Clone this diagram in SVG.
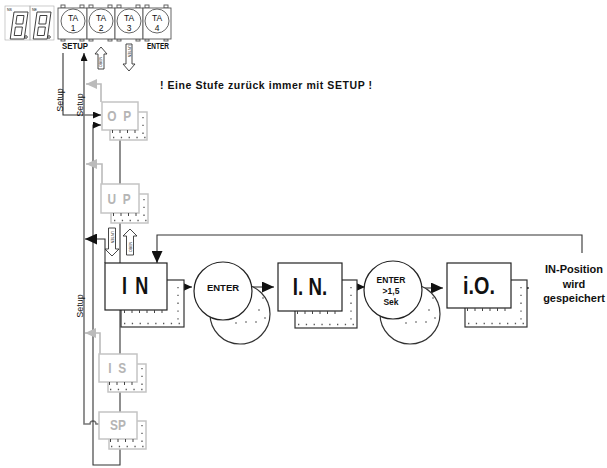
<svg xmlns="http://www.w3.org/2000/svg" width="607" height="468" viewBox="0 0 607 468">
<style>
text{font-family:"Liberation Sans",Arial,sans-serif;fill:#111}
.b{font-weight:bold}
.gbox{fill:#fff;stroke:#c4c4c4;stroke-width:1.5}
.kbox{fill:#fff;stroke:#222;stroke-width:1.2}
.kshd{fill:#fff;stroke:#333;stroke-width:1.2}
.tick{stroke:#444;stroke-width:3;stroke-dasharray:1 6.5;fill:none}
.dot{stroke:#555;stroke-width:1.3;stroke-dasharray:1.3 6.5;fill:none}
.gl{font-weight:bold;fill:#b5b5b5;font-size:14px;text-anchor:middle}
.kl{font-weight:bold;fill:#111;font-size:22px;text-anchor:middle}
.ln{fill:none;stroke:#333;stroke-width:1.1}
.gln{fill:none;stroke:#bbb;stroke-width:1.6}
.mln{fill:none;stroke:#777;stroke-width:1.6}
.btn{fill:#fff;stroke:#555;stroke-width:0.9}
.seg{fill:none;stroke:#333;stroke-width:0.9}
.hol{fill:#fff;stroke:#333;stroke-width:0.9}
.tiny{font-size:3.6px}
.setup{font-size:9px;text-anchor:middle}
</style>
<defs>
<marker id="ah" markerUnits="userSpaceOnUse" markerWidth="12" markerHeight="11" refX="12" refY="5.5" orient="auto"><path d="M0,0 L12,5.5 L0,11 Z" fill="#111"/></marker>
<marker id="as" markerUnits="userSpaceOnUse" markerWidth="8" markerHeight="7" refX="8" refY="3.5" orient="auto"><path d="M0,0 L8,3.5 L0,7 Z" fill="#111"/></marker>
<marker id="ag" markerUnits="userSpaceOnUse" markerWidth="11" markerHeight="10" refX="11" refY="5" orient="auto"><path d="M0,0 L11,5 L0,10 Z" fill="#bbb"/></marker>
</defs>

<g id="display">
<rect x="5" y="6" width="25" height="34" fill="none" stroke="#aaa" stroke-width="0.6"/>
<rect x="30" y="6" width="24" height="34" fill="none" stroke="#aaa" stroke-width="0.6"/>
<text x="7" y="11" class="tiny">NS</text>
<text x="32" y="11" class="tiny">NE</text>
<path class="seg" transform="translate(14,12) skewX(-8)" d="M0,0 H14 V27 H0 Z M3.5,3.5 H10.5 V12 H3.5 Z M3.5,15 H10.5 V23.5 H3.5 Z"/>
<path class="seg" transform="translate(37,12) skewX(-8)" d="M0,0 H14 V27 H0 Z M3.5,3.5 H10.5 V12 H3.5 Z M3.5,15 H10.5 V23.5 H3.5 Z"/>
<circle cx="26" cy="37" r="1.3" class="seg"/>
<circle cx="49" cy="37" r="1.3" class="seg"/>
</g>

<g id="buttons">
<rect x="61" y="5" width="4" height="3" class="btn"/><rect x="80" y="5" width="4" height="3" class="btn"/>
<rect x="89" y="5" width="4" height="3" class="btn"/><rect x="108" y="5" width="4" height="3" class="btn"/>
<rect x="117" y="5" width="4" height="3" class="btn"/><rect x="136" y="5" width="4" height="3" class="btn"/>
<rect x="145" y="5" width="4" height="3" class="btn"/><rect x="164" y="5" width="4" height="3" class="btn"/>
<rect x="61" y="39" width="4" height="2" class="btn"/><rect x="80" y="39" width="4" height="2" class="btn"/>
<rect x="89" y="39" width="4" height="2" class="btn"/><rect x="108" y="39" width="4" height="2" class="btn"/>
<rect x="117" y="39" width="4" height="2" class="btn"/><rect x="136" y="39" width="4" height="2" class="btn"/>
<rect x="145" y="39" width="4" height="2" class="btn"/><rect x="164" y="39" width="4" height="2" class="btn"/>
<rect x="58" y="8" width="29" height="31" class="btn"/>
<rect x="87" y="8" width="28" height="31" class="btn"/>
<rect x="115" y="8" width="28" height="31" class="btn"/>
<rect x="143" y="8" width="28" height="31" class="btn"/>
<circle cx="73" cy="21" r="12" class="btn"/>
<circle cx="101" cy="21" r="12" class="btn"/>
<circle cx="129" cy="21" r="12" class="btn"/>
<circle cx="157" cy="21" r="12" class="btn"/>
<g font-size="8.5" text-anchor="middle">
<text x="73" y="21">TA</text><text x="73" y="31">1</text>
<text x="101" y="21">TA</text><text x="101" y="31">2</text>
<text x="129" y="21">TA</text><text x="129" y="31">3</text>
<text x="157" y="21">TA</text><text x="157" y="31">4</text>
</g>
<text x="62" y="49" class="b" font-size="8.5" textLength="26" lengthAdjust="spacingAndGlyphs">SETUP</text>
<text x="147" y="49" class="b" font-size="8.5" textLength="22" lengthAdjust="spacingAndGlyphs">ENTER</text>
</g>

<g id="arrow-up-top">
<path class="hol" d="M101,47 L107,54 L104,54 L104,69 L98,69 L98,54 L95,54 Z"/>
<text class="tiny" transform="translate(102.3,67) rotate(-90)">OBEN</text>
</g>
<g id="arrow-down-top">
<path class="hol" d="M129,71 L135,64 L132,64 L132,44 L126,44 L126,64 L123,64 Z"/>
<text class="tiny" transform="translate(127.7,45) rotate(90)">UNTEN</text>
</g>

<text id="hint" x="160" y="89" class="b" font-size="10.5" textLength="212" lengthAdjust="spacing">! Eine Stufe zurück immer mit SETUP  !</text>

<g id="connectors">
<path class="ln" d="M63,53 V115 H101" marker-end="url(#as)"/>
<path class="mln" d="M99,424 H96 A3,3 0 0 0 90,424 H84 V53" marker-end="url(#as)"/>
<path class="ln" d="M120,449 V465 H93 V125 H101" marker-end="url(#as)"/>
<path class="ln" d="M120,140 V184"/>
<path class="ln" d="M120,223 V263"/>
<path class="ln" d="M120,310 V354"/>
<path class="ln" d="M120,392 V412"/>
<path class="gln" d="M101,102 V84 H86" marker-end="url(#ag)"/>
<path class="gln" d="M102,184 V164 H86" marker-end="url(#ag)"/>
<path class="gln" d="M100,354 V333 H85" marker-end="url(#ag)"/>
<path class="ln" d="M105,263 V239 H85" marker-end="url(#ah)"/>
<path class="ln" d="M582,253 V235 H157 V263" marker-end="url(#ah)"/>
<path class="ln" d="M167,287 H192" marker-end="url(#ah)"/>
<path class="ln" d="M252,287 H274" marker-end="url(#ah)"/>
<path class="ln" d="M342,287 H365" marker-end="url(#ah)"/>
<path class="ln" d="M422,288 H443" marker-end="url(#ah)"/>
<path class="ln" d="M511,288 H529" marker-end="url(#ah)"/>
<g id="arrow-down-in">
<path class="hol" d="M112,256 L119,249 L115.5,249 L115.5,228 L108.5,228 L108.5,249 L105,249 Z"/>
<text class="tiny" transform="translate(110.5,231) rotate(90)">UNTEN</text>
</g>
<g id="arrow-up-in">
<path class="hol" d="M130,229 L137,236 L133.5,236 L133.5,255 L126.5,255 L126.5,236 L123,236 Z"/>
<text class="tiny" transform="translate(131.5,252) rotate(-90)">OBEN</text>
</g>
</g>

<text class="setup" transform="translate(62.5,100) rotate(-90)">Setup</text>
<text class="setup" transform="translate(83,105) rotate(-90)">Setup</text>
<text class="setup" transform="translate(82.5,306) rotate(-90)">Setup</text>

<g id="node-OP">
<rect x="110" y="112" width="37" height="28" class="gbox"/>
<rect x="102" y="102" width="36" height="28" class="gbox"/>
<line x1="112" y1="131.5" x2="138" y2="131.5" class="tick"/>
<line x1="113" y1="137.5" x2="146" y2="137.5" class="dot"/>
<line x1="143" y1="117" x2="143" y2="136" class="dot"/>
<text class="gl" transform="translate(120,121) scale(0.85,1.1)" letter-spacing="2">O P</text>
</g>
<g id="node-UP">
<rect x="111" y="194" width="37" height="29" class="gbox"/>
<rect x="101" y="184" width="38" height="29" class="gbox"/>
<line x1="113" y1="214.5" x2="139" y2="214.5" class="tick"/>
<line x1="114" y1="220.5" x2="147" y2="220.5" class="dot"/>
<line x1="144" y1="199" x2="144" y2="218" class="dot"/>
<text class="gl" transform="translate(120,204) scale(0.85,1.1)" letter-spacing="2">U P</text>
</g>
<g id="node-IN">
<rect x="121" y="280" width="63" height="47" class="kshd"/>
<rect x="105" y="263" width="62" height="47" class="kbox"/>
<line x1="124" y1="311.5" x2="167" y2="311.5" class="tick"/>
<line x1="124" y1="323.5" x2="182" y2="323.5" class="dot"/>
<line x1="178" y1="287" x2="178" y2="322" class="dot"/>
<text class="kl" transform="translate(136,294) scale(0.82,1.12)" letter-spacing="2">I N</text>
</g>
<g id="node-ENTER1">
<circle cx="240" cy="314" r="30" class="kshd"/>
<circle cx="263" cy="298" r="0.8" fill="#444"/><circle cx="259" cy="310" r="0.8" fill="#444"/>
<circle cx="256" cy="322" r="0.8" fill="#444"/><circle cx="246" cy="322" r="0.8" fill="#444"/>
<circle cx="236" cy="323" r="0.8" fill="#444"/><circle cx="265" cy="318" r="0.8" fill="#444"/>
<circle cx="223" cy="291" r="29" class="kbox"/>
<text x="223" y="291" class="b" font-size="9.5" text-anchor="middle">ENTER</text>
</g>
<g id="node-IN2">
<rect x="295" y="280" width="62" height="48" class="kshd"/>
<rect x="278" y="263" width="64" height="48" class="kbox"/>
<line x1="297" y1="312.5" x2="342" y2="312.5" class="tick"/>
<line x1="298" y1="324.5" x2="355" y2="324.5" class="dot"/>
<line x1="351" y1="287" x2="351" y2="322" class="dot"/>
<text class="kl" transform="translate(310,295) scale(0.85,1.12)">I. N.</text>
</g>
<g id="node-ENTER2">
<circle cx="410" cy="314" r="30" class="kshd"/>
<circle cx="433" cy="298" r="0.8" fill="#444"/><circle cx="429" cy="310" r="0.8" fill="#444"/>
<circle cx="426" cy="322" r="0.8" fill="#444"/><circle cx="416" cy="322" r="0.8" fill="#444"/>
<circle cx="406" cy="323" r="0.8" fill="#444"/><circle cx="435" cy="318" r="0.8" fill="#444"/>
<circle cx="393" cy="290" r="29" class="kbox"/>
<g class="b" font-size="8.5" text-anchor="middle">
<text x="391" y="283" class="b">ENTER</text>
<text x="391" y="294" class="b">&gt;1,5</text>
<text x="391" y="305" class="b">Sek</text>
</g>
</g>
<g id="node-iO">
<rect x="465" y="280" width="62" height="47" class="kshd"/>
<rect x="447" y="263" width="64" height="45" class="kbox"/>
<line x1="467" y1="309.5" x2="511" y2="309.5" class="tick"/>
<line x1="468" y1="323.5" x2="525" y2="323.5" class="dot"/>
<line x1="521" y1="287" x2="521" y2="321" class="dot"/>
<text class="kl" transform="translate(479,294) scale(0.9,1.1)">i.O.</text>
</g>
<g id="label-saved" class="b" font-size="11" text-anchor="middle">
<text x="574" y="273" class="b">IN-Position</text>
<text x="574" y="288" class="b">wird</text>
<text x="574" y="302" class="b">gespeichert</text>
</g>
<g id="node-IS">
<rect x="108" y="364" width="38" height="28" class="gbox"/>
<rect x="99" y="354" width="38" height="28" class="gbox"/>
<line x1="109" y1="383.5" x2="137" y2="383.5" class="tick"/>
<line x1="110" y1="389.5" x2="145" y2="389.5" class="dot"/>
<line x1="142" y1="368" x2="142" y2="387" class="dot"/>
<text class="gl" transform="translate(118,373) scale(0.85,1.1)" letter-spacing="2">I S</text>
</g>
<g id="node-SP">
<rect x="109" y="421" width="37" height="28" class="gbox"/>
<rect x="99" y="412" width="38" height="27" class="gbox"/>
<line x1="110" y1="440.5" x2="137" y2="440.5" class="tick"/>
<line x1="111" y1="446.5" x2="145" y2="446.5" class="dot"/>
<line x1="142" y1="425" x2="142" y2="444" class="dot"/>
<text class="gl" transform="translate(118,430) scale(0.85,1.1)">SP</text>
</g>
</svg>
